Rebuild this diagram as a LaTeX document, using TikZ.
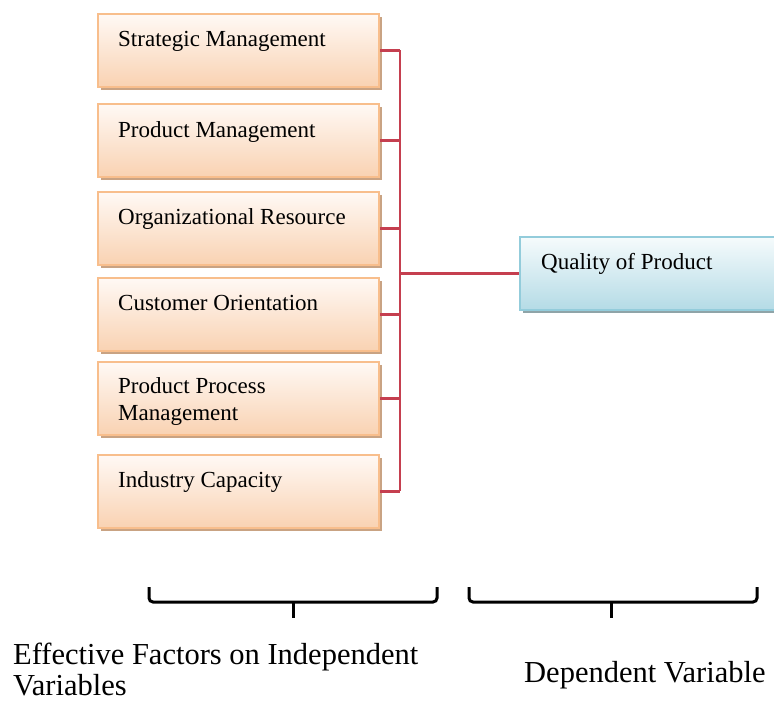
\documentclass[tikz,border=0pt]{standalone}
\usepackage{fontspec}
\setmainfont{Liberation Serif}
\usetikzlibrary{shadows,calc}

\definecolor{peachtop}{HTML}{FFF9F5}
\definecolor{peachbot}{HTML}{F9D2B2}
\definecolor{peachline}{HTML}{F8BE8C}
\definecolor{peachshadow}{HTML}{C9A383}
\definecolor{bluetop}{HTML}{F6FBFC}
\definecolor{bluebot}{HTML}{B4DBE6}
\definecolor{blueline}{HTML}{93CCDB}
\definecolor{blueshadow}{HTML}{8FA4A8}
\definecolor{busred}{HTML}{C53F4F}

\begin{document}
\begin{tikzpicture}[x=1pt,y=-1pt,
  factor/.style={draw=peachline, line width=1.8pt, top color=peachtop, bottom color=peachbot,
    minimum width=281pt, minimum height=73pt, inner sep=0pt, anchor=north west,
    drop shadow={shadow xshift=3pt, shadow yshift=-3.5pt, fill=peachshadow, opacity=1}},
  outcome/.style={draw=blueline, line width=1.8pt, top color=bluetop, bottom color=bluebot,
    minimum width=262pt, minimum height=73pt, inner sep=0pt, anchor=north west,
    drop shadow={shadow xshift=3pt, shadow yshift=-3.5pt, fill=blueshadow, opacity=1}},
  boxtext/.style={anchor=base west, inner sep=0pt, font=\fontsize{23}{27}\selectfont},
  captext/.style={anchor=base west, inner sep=0pt, font=\fontsize{30.5}{31.5}\selectfont},
  bus/.style={draw=busred, line width=2.5pt},
  brace/.style={draw=black, line width=3pt, rounded corners=4pt}]

\clip (0,0) rectangle (774,704);
\useasboundingbox (0,0) rectangle (774,704);

% factor boxes
\node[factor] (b1) at (97,13)  {};
\node[factor] (b2) at (97,103) {};
\node[factor] (b3) at (97,191) {};
\node[factor] (b4) at (97,277) {};
\node[factor] (b5) at (97,361) {};
\node[factor] (b6) at (97,454) {};

\node[boxtext] (t1) at ($(b1.north west)+(21,33)$) {Strategic Management};
\node[boxtext] (t2) at ($(b2.north west)+(21,34)$) {Product Management};
\node[boxtext] (t3) at ($(b3.north west)+(21,33)$) {Organizational Resource};
\node[boxtext] (t4) at ($(b4.north west)+(21,33)$) {Customer Orientation};
\node[boxtext] (t5) at ($(b5.north west)+(21,32)$)
  {\vtop{\hbox{Product Process}\hbox{Management}}};
\node[boxtext] (t6) at ($(b6.north west)+(21,33)$) {Industry Capacity};

% outcome box
\node[outcome] (q) at (519,236) {};
\node[boxtext] (tq) at ($(q.north west)+(22,33)$) {Quality of Product};

% bus connecting factors to the outcome
\coordinate (busx) at (400,0);
\foreach \b in {b1,b2,b3,b4,b5,b6}
  \draw[bus] (\b.east) -- (\b.east -| busx);
\draw[bus] (b1.east -| busx) -- (b6.east -| busx);
\draw[bus] (q.west -| busx) -- (q.west);

% braces
\coordinate (lbl) at (149,587);
\coordinate (lbr) at (437,587);
\coordinate (lbt) at (293,602);
\draw[brace] (lbl) -- (149,602) -- (437,602) -- (lbr);
\draw[draw=black, line width=3pt] (lbt) -- (293,618);

\coordinate (rbl) at (469,587);
\coordinate (rbr) at (757,587);
\coordinate (rbt) at (611,602);
\draw[brace] (rbl) -- (469,602) -- (757,602) -- (rbr);
\draw[draw=black, line width=3pt] (rbt) -- (611,618);

% captions
\node[captext] (c1) at (13,664)
  {\vtop{\hbox{Effective Factors on Independent}\hbox{Variables}}};
\node[captext] (c2) at (524,682) {Dependent Variable};

\end{tikzpicture}
\end{document}
